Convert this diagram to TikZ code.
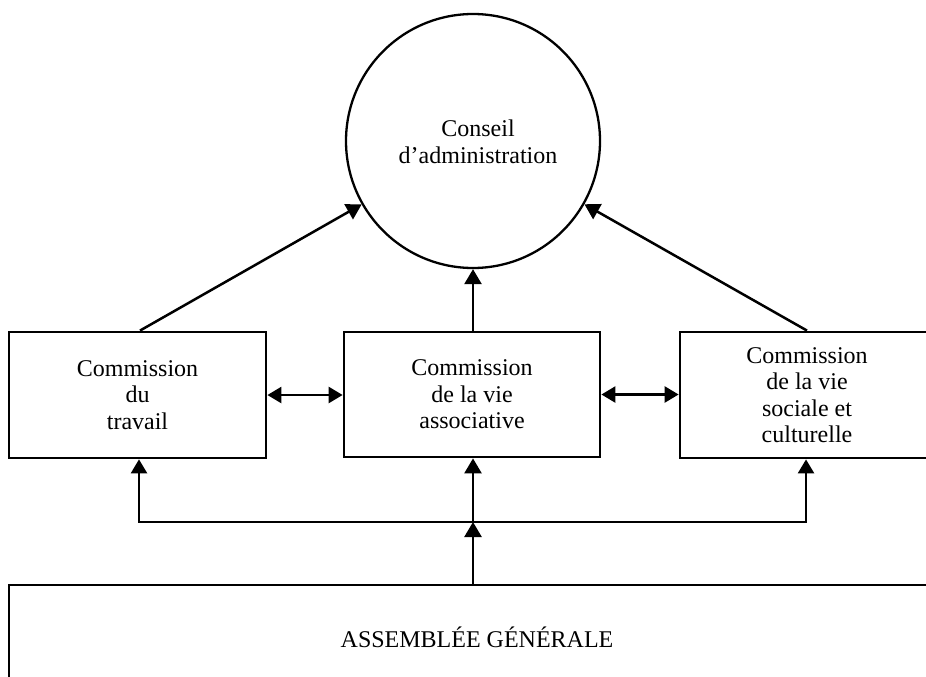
\documentclass[tikz,border=0pt]{standalone}
\usepackage{fontspec}
\setmainfont{Liberation Serif}
\usetikzlibrary{arrows.meta,calc}
\tikzset{
  boxnode/.style={draw, line width=2.8pt, rectangle, inner sep=0pt, align=center, font=\fontsize{24}{26.5}\selectfont},
  txt/.style={inner sep=0pt, align=center, font=\fontsize{24}{26.5}\selectfont},
  conn/.style={line width=2.5pt},
  arr/.style={conn, -{Triangle[length=15pt,width=17pt]}},
  biarr/.style={conn, {Triangle[length=14pt,width=16pt]}-{Triangle[length=14pt,width=16pt]}}
}
\begin{document}
\begin{tikzpicture}[x=1pt,y=-1pt]
\useasboundingbox (0,0) rectangle (926,677);
\clip (0,0) rectangle (926,677);
\fill[white] (0,0) rectangle (926,677);
% council circle
\node[draw, circle, line width=2.3pt, minimum size=254pt, inner sep=0pt] (circ) at (473,141) {};
\node[txt, font=\fontsize{24}{27}\selectfont] (ctext) at (478,141.5) {Conseil\\d’administration};
% commissions
\node[boxnode, minimum width=257pt, minimum height=126pt] (lbox) at (137.5,395) {Commission\\du\\travail};
\node[boxnode, minimum width=256pt, minimum height=125pt] (mid) at (472,394.5) {Commission\\de la vie\\associative};
\node[boxnode, minimum width=254pt, minimum height=126pt] (rbox) at (807,395) {Commission\\de la vie\\sociale et\\culturelle};
% assembly
\node[boxnode, minimum width=936pt, minimum height=104pt] (asm) at (477,637) {ASSEMBLÉE GÉNÉRALE};
% connectors to council
\draw[arr] (mid.north -| circ.south) -- (circ.south);
\draw[arr] ([xshift=2.5pt]lbox.north) -- (circ);
\draw[arr] (rbox.north) -- (circ);
% lateral links
\draw[biarr] (lbox.east) -- (lbox.east -| mid.west);
\draw[biarr] (mid.east) -- (mid.east -| rbox.west);
% from assembly
\coordinate (j) at (473,522);
\coordinate (jl) at (139,522);
\coordinate (jr) at (806,522);
\draw[arr] (j |- asm.north) -- (j);
\draw[arr] (j) -- (j |- mid.south);
\draw[biarr, line join=miter] (jl |- lbox.south) -- (jl) -- (jr) -- (jr |- rbox.south);
\end{tikzpicture}
\end{document}
